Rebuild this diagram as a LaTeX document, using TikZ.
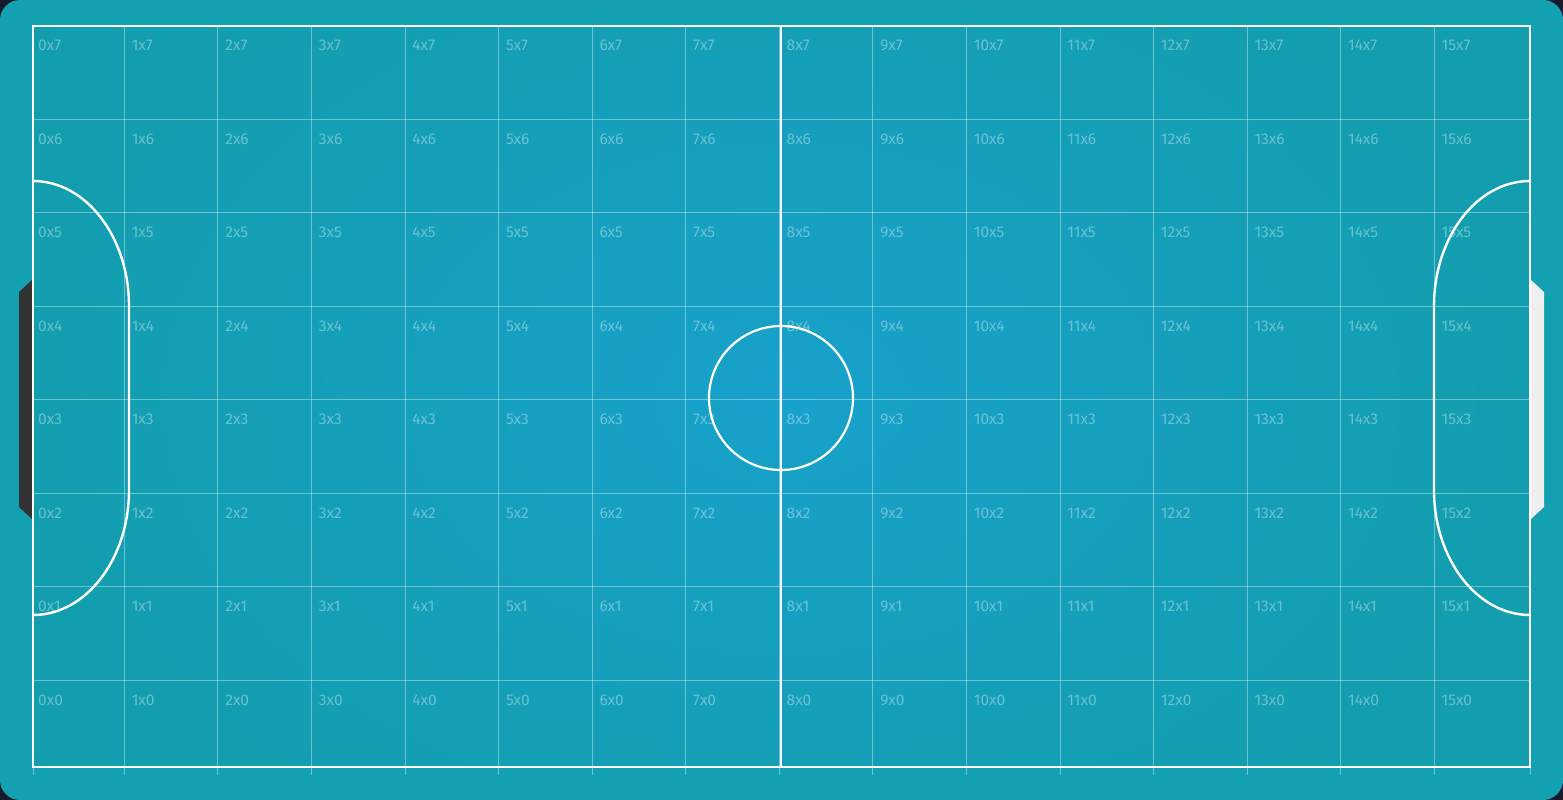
\documentclass[tikz,border=0pt]{standalone}
\usepackage{fontspec}
\setmainfont{Fira Sans}
\definecolor{outerbg}{HTML}{13A0B1}
\definecolor{cornerbg}{HTML}{161B2C}
\definecolor{fieldedge}{HTML}{129EAE}
\definecolor{fieldmid}{HTML}{18A1CB}
\definecolor{goaldark}{HTML}{333333}
\definecolor{goallight}{HTML}{EFEFEF}
\tikzset{
  gridline/.style={draw=white, draw opacity=0.38, line width=0.9pt},
  fieldline/.style={draw=white, line width=2.4pt},
  celllabel/.style={anchor=base west, inner sep=0pt, text=white, text opacity=0.36, font=\fontsize{15.5}{15.5}\selectfont},
}
\begin{document}
\begin{tikzpicture}[x=1pt,y=-1pt]
\useasboundingbox (0,0) rectangle (1563,800);
\fill[cornerbg] (0,0) rectangle (1563,800);
\fill[outerbg, rounded corners=20pt] (0,0) rectangle (1563,800);
% goals
\fill[goaldark] (32,280) -- (19,292) -- (19,507) -- (32,519) -- cycle;
\fill[goallight] (1531,280) -- (1544,292) -- (1544,507) -- (1531,519) -- cycle;
% field
\fill[fieldedge] (33,26) rectangle (1530,767);
\begin{scope}
\clip (33,26) rectangle (1530,767);
\shade[inner color=fieldmid, outer color=fieldedge] (781,398) ellipse (760pt and 520pt);
\end{scope}
% grid
\foreach \i in {1,...,15} {
  \draw[gridline] ({33+\i*93.5625-2.2},26) -- ({33+\i*93.5625-2.2},774.5);
}
\draw[gridline] (33,26) -- (33,774.5);
\draw[gridline] (1530.5,26) -- (1530.5,774.5);
\foreach \j in {1,...,7} {
  \draw[gridline] (33,{26+\j*93.5625-0.5}) -- (1530,{26+\j*93.5625-0.5});
}
% labels
\foreach \i in {0,...,15} {
  \foreach \j in {0,...,7} {
    \pgfmathsetmacro{\lx}{33+\i*93.5625+5}
    \pgfmathsetmacro{\ly}{26+(7-\j)*93.5625+24.5}
    \node[celllabel] (l-\i-\j) at (\lx,\ly) {\i x\j};
  }
}
% field markings
\draw[fieldline] (33,26) rectangle (1530,767);
\draw[fieldline] (781,26) -- (781,767);
\node[draw=white, line width=2.2pt, circle, minimum size=144pt, inner sep=0pt] (centre) at (781,398) {};
\draw[fieldline] (33,181) arc[start angle=90, end angle=0, x radius=96pt, y radius=125pt] -- (129,490) arc[start angle=0, end angle=-90, x radius=96pt, y radius=125pt];
\draw[fieldline] (1530,181) arc[start angle=90, end angle=180, x radius=96pt, y radius=125pt] -- (1434,490) arc[start angle=180, end angle=270, x radius=96pt, y radius=125pt];
\end{tikzpicture}
\end{document}
